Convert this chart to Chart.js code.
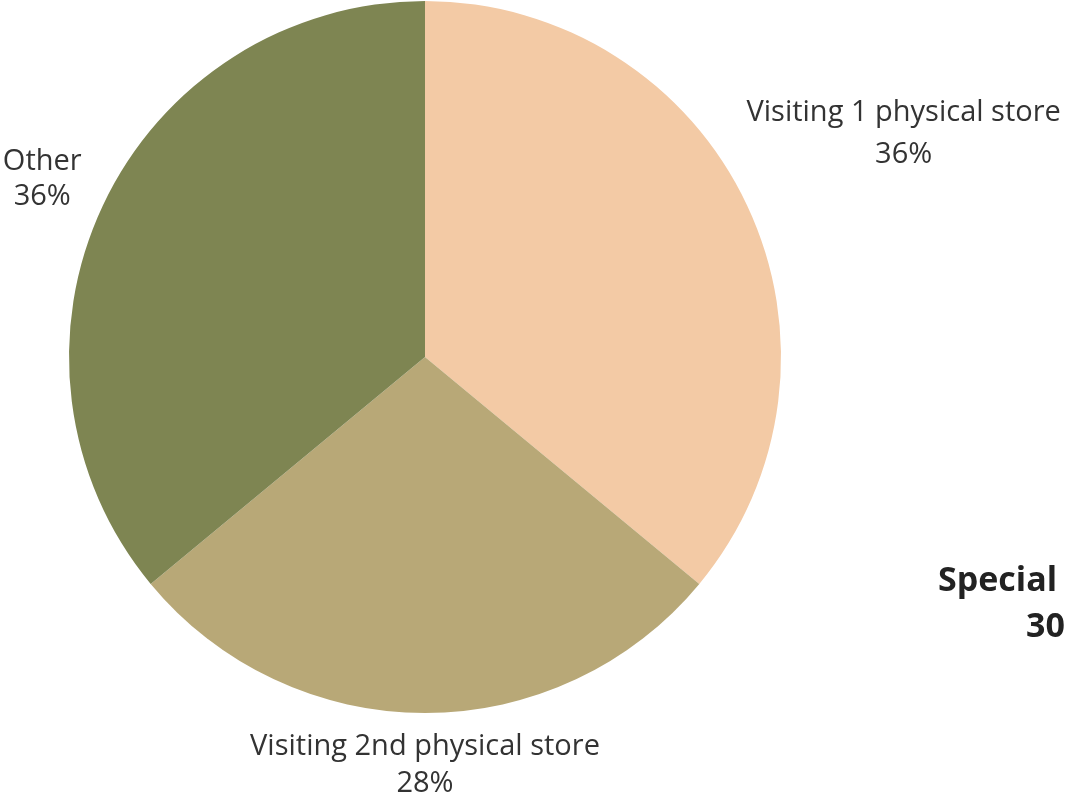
<!DOCTYPE html>
<html>
<head>
<meta charset="utf-8">
<script src="https://cdn.jsdelivr.net/npm/chart.js@4/dist/chart.umd.min.js"></script>
<style>
  html, body { margin: 0; padding: 0; background: #ffffff; overflow: hidden; }
  #wrap { position: relative; width: 1065px; height: 794px; }
</style>
</head>
<body>
<div id="wrap"><canvas id="pieChart" width="1065" height="794"></canvas></div>
<script>
const labels = ["Visiting 1 physical store", "Visiting 2nd physical store", "Other"];
const shares = [36, 28, 36];
const colors = ["#F3CAA5", "#B8A877", "#7E8552"];
const sideLabel = ["Special", "30"];

const ctx = document.getElementById("pieChart");
const FONT = "'Open Sans', sans-serif";

// distance of each label from the pie centre, and line gap
const labelDist = [529, 406, 423];
const lineGap = [42, 37, 35];

const outsideLabels = {
  id: "outsideLabels",
  afterDraw(chart) {
    const c = chart.ctx;
    const arcs = chart.getDatasetMeta(0).data;
    c.save();
    c.fillStyle = "#333333";
    c.textAlign = "center";
    c.textBaseline = "middle";
    c.font = "29px " + FONT;
    arcs.forEach((arc, i) => {
      const mid = (arc.startAngle + arc.endAngle) / 2;
      const x = arc.x + Math.cos(mid) * labelDist[i];
      const y = arc.y + Math.sin(mid) * labelDist[i] + 2;
      c.fillText(chart.data.labels[i], x, y - lineGap[i] / 2);
      c.fillText(shares[i] + "%", x, y + lineGap[i] / 2);
    });
    // cut-off label of the neighbouring chart
    c.fillStyle = "#222222";
    c.font = "bold 34px " + FONT;
    c.textAlign = "left";
    c.fillText(sideLabel[0], 938, 581);
    c.fillText(sideLabel[1], 1026, 627);
    c.restore();
  },
};

new Chart(ctx, {
  type: "pie",
  data: {
    labels: labels,
    datasets: [
      {
        data: shares,
        backgroundColor: colors,
        borderWidth: 0,
      },
    ],
  },
  plugins: [outsideLabels],
  options: {
    responsive: false,
    animation: false,
    layout: {
      padding: { top: 1, bottom: 81, left: 69, right: 284 },
    },
    plugins: {
      legend: { display: false },
      tooltip: { enabled: false },
    },
  },
});
</script>
</body>
</html>
